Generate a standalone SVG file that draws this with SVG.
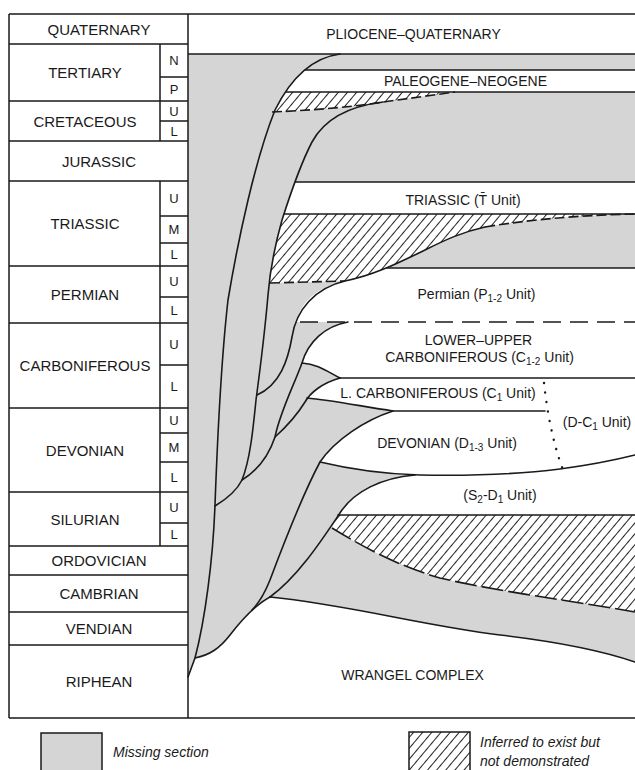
<svg xmlns="http://www.w3.org/2000/svg" width="635" height="770" viewBox="0 0 635 770">
<style>
text{font-family:"Liberation Sans",Arial,Helvetica,sans-serif;fill:#1a1a1a}
.per{font-size:15px;text-anchor:middle}
.sl{font-size:13px;text-anchor:middle}
.unit{font-size:14px;text-anchor:middle}
.leg{font-size:14px;font-style:italic}
.ln{fill:none;stroke:#1a1a1a;stroke-width:1.6;stroke-linecap:round;stroke-linejoin:round}
.tl{fill:none;stroke:#1a1a1a;stroke-width:1.5}
.d1{stroke-dasharray:10 4;stroke-linecap:butt}
.d2{stroke-dasharray:18 9;stroke-linecap:butt}
.d3{stroke-dasharray:22 5;stroke-linecap:butt}
.dot{fill:none;stroke:#1a1a1a;stroke-width:2.4;stroke-linecap:round;stroke-dasharray:0.1 9.5}
.gray{fill:#d5d5d5}
.wh{fill:#ffffff}
.ht{fill:url(#hatch)}
</style>
<defs>
<pattern id="hatch" patternUnits="userSpaceOnUse" width="7" height="7" patternTransform="rotate(40)">
<rect width="7" height="7" fill="#ffffff"/>
<line x1="3.5" y1="-1" x2="3.5" y2="8" stroke="#222" stroke-width="1"/>
</pattern>
<clipPath id="rightA">
<path d="M340,54 C 310,58 290,80 275,110 C 255,160 238,240 228,300 C 220,370 217,450 215,505 C 213,560 205,620 195,658 L188,677 L640,677 L640,54 Z"/>
</clipPath>
<clipPath id="rightB">
<path d="M383,102 C 350,106 325,118 312,142 C 300,165 290,195 282,220 C 275,245 270,270 268,295 C 265,330 260,370 256,400 C 253,430 250,460 242,480 C 236,492 225,500 215,506 L640,506 L640,98 Z"/>
</clipPath>
</defs>

<g id="fills">
<path class="gray" d="M188,54 L635,54 L635,662 C 600,650 560,642 500,635 C 420,625 350,605 270,597 C 255,605 240,622 230,635 C 220,648 210,655 195,658 L188,677 Z"/>
<g clip-path="url(#rightA)">
<rect class="wh" x="188" y="70" width="447" height="22"/>
<path class="ht" d="M188,92 L455,92 C 440,94 420,97 390,101 C 360,106 320,110 272,112 L188,113 Z"/>
</g>
<g clip-path="url(#rightB)">
<rect class="wh" x="188" y="182" width="447" height="32"/>
<path class="ht" d="M188,214 L635,214 C 590,215 540,218 485,227 C 462,232 445,240 425,250 C 400,262 375,275 345,281 L270,283 L188,283 Z"/>
</g>
<path class="wh" d="M296,322 C 302,300 318,287 345,281 C 368,276 380,271 387,268 L635,268 L635,322 Z"/>
<path class="wh" d="M348,322 L635,322 L635,378 L340,378 C 328,372 318,364 302,363 C 308,342 325,326 348,322 Z"/>
<path class="wh" d="M340,378 L635,378 L635,455 C 615,460 590,465 560,469 C 520,474 470,476 420,475 C 380,474 345,468 320,462 C 335,440 365,420 393,411 C 360,406 330,400 307,398 C 310,393 322,383 340,378 Z"/>
<path class="wh" d="M338,515 C 350,495 378,479 415,475 C 470,476 520,474 560,469 C 590,465 615,460 635,455 L635,515 Z"/>
<path class="ht" d="M338,515 L635,515 L635,612 C 580,602 500,592 440,578 C 395,565 360,545 332,528 Z"/>
</g>

<g id="table">
<path class="tl" d="M9,14 L635,14 M9,14 L9,718 M9,718 L635,718 M188,14 L188,718 M188,54 L635,54"/>
<path class="tl" d="M9,44 H188 M9,101 H188 M9,141 H188 M9,181 H188 M9,266 H188 M9,323 H188 M9,408 H188 M9,492 H188 M9,546 H188 M9,575 H188 M9,612 H188 M9,645 H188"/>
<path class="tl" d="M160,44 V141 M160,181 V546 M160,77 H188 M160,121 H188 M160,216 H188 M160,243 H188 M160,297 H188 M160,365 H188 M160,433 H188 M160,462 H188 M160,523 H188"/>
</g>

<g id="periods">
<text class="per" x="99" y="34.5">QUATERNARY</text>
<text class="per" x="85" y="78">TERTIARY</text>
<text class="per" x="85" y="126.5">CRETACEOUS</text>
<text class="per" x="99" y="166.5">JURASSIC</text>
<text class="per" x="85" y="229">TRIASSIC</text>
<text class="per" x="85" y="300">PERMIAN</text>
<text class="per" x="85" y="371">CARBONIFEROUS</text>
<text class="per" x="85" y="455.5">DEVONIAN</text>
<text class="per" x="85" y="524.5">SILURIAN</text>
<text class="per" x="99" y="566">ORDOVICIAN</text>
<text class="per" x="99" y="599">CAMBRIAN</text>
<text class="per" x="99" y="634">VENDIAN</text>
<text class="per" x="99" y="687">RIPHEAN</text>
<text class="sl" x="174" y="65">N</text>
<text class="sl" x="174" y="94">P</text>
<text class="sl" x="174" y="116">U</text>
<text class="sl" x="174" y="136">L</text>
<text class="sl" x="174" y="203">U</text>
<text class="sl" x="174" y="234">M</text>
<text class="sl" x="174" y="259">L</text>
<text class="sl" x="174" y="286">U</text>
<text class="sl" x="174" y="315">L</text>
<text class="sl" x="174" y="349">U</text>
<text class="sl" x="174" y="391">L</text>
<text class="sl" x="174" y="425">U</text>
<text class="sl" x="174" y="452">M</text>
<text class="sl" x="174" y="482">L</text>
<text class="sl" x="174" y="512">U</text>
<text class="sl" x="174" y="539">L</text>
</g>

<g id="connectors">
<path class="ln" d="M340,54 C 310,58 290,80 275,110 C 255,160 238,240 228,300 C 220,370 217,450 215,505 C 213,560 205,620 195,658 L188,677"/>
<path class="ln" d="M383,102 C 350,106 325,118 312,142 C 300,165 290,195 282,220 C 275,245 270,270 268,295 C 265,330 260,370 256,400 C 253,430 250,460 242,480 C 236,492 225,500 215,506"/>
<g clip-path="url(#rightA)">
<path class="ln" d="M188,70 H635 M188,92 H635"/>
</g>
<path class="ln d1" d="M272,112 C 320,110 360,106 390,101 C 420,97 440,94 455,92"/>
<g clip-path="url(#rightB)">
<path class="ln" d="M188,182 H635 M188,214 H635"/>
</g>
<path class="ln" d="M257,395 C 280,385 288,360 292,337 C 296,310 315,288 345,281 C 375,275 400,262 425,250 C 445,240 462,232 485,227"/>
<path class="ln d1" d="M485,227 C 540,218 590,215 635,214"/>
<path class="ln d1" d="M270,283 L345,281"/>
<path class="ln" d="M387,268 L635,268"/>
<path class="ln d2" d="M300,322 L635,322"/>
<path class="ln" d="M348,322 C 325,326 308,342 302,363 C 294,385 280,412 275,437 C 268,458 255,472 242,480"/>
<path class="ln" d="M302,363 C 318,364 328,372 340,378"/>
<path class="ln" d="M340,378 L635,378"/>
<path class="ln" d="M340,378 C 322,383 310,393 305,402 C 297,415 285,428 275,437"/>
<path class="ln" d="M307,398 C 330,400 360,406 393,411 L545,411"/>
<path class="ln" d="M393,411 C 365,420 335,440 320,462 C 305,490 285,540 270,580 C 264,595 258,604 252,610"/>
<path class="ln" d="M320,462 C 345,468 380,474 420,475 C 470,476 520,474 560,469 C 590,465 615,460 635,455"/>
<path class="ln" d="M415,475 C 380,478 355,492 342,510 C 325,535 300,575 270,597"/>
<path class="ln" d="M338,515 L635,515"/>
<path class="ln d3" d="M332,528 C 360,545 395,565 440,578 C 500,592 580,602 635,612"/>
<path class="ln" d="M270,597 C 350,605 420,625 500,635 C 560,642 600,650 635,662"/>
<path class="ln" d="M195,658 C 210,655 220,648 230,635 C 240,622 255,605 270,597"/>
<path class="dot" d="M544,383 C 547,410 552,440 563,470"/>
</g>

<g id="units">
<text class="unit" x="413.5" y="38.5">PLIOCENE–QUATERNARY</text>
<text class="unit" x="465.5" y="86">PALEOGENE–NEOGENE</text>
<text class="unit" x="463" y="204.5">TRIASSIC (T̄ Unit)</text>
<text class="unit" x="476.5" y="299">Permian (P<tspan font-size="10" dy="3">1-2</tspan><tspan dy="-3"> Unit)</tspan></text>
<text class="unit" x="478.5" y="345">LOWER–UPPER</text>
<text class="unit" x="479.5" y="362">CARBONIFEROUS (C<tspan font-size="10" dy="3">1-2</tspan><tspan dy="-3"> Unit)</tspan></text>
<text class="unit" x="438" y="398">L. CARBONIFEROUS (C<tspan font-size="10" dy="3">1</tspan><tspan dy="-3"> Unit)</tspan></text>
<text class="unit" x="597" y="427">(D-C<tspan font-size="10" dy="3">1</tspan><tspan dy="-3"> Unit)</tspan></text>
<text class="unit" x="447" y="448">DEVONIAN (D<tspan font-size="10" dy="3">1-3</tspan><tspan dy="-3"> Unit)</tspan></text>
<text class="unit" x="500" y="500">(S<tspan font-size="10" dy="3">2</tspan><tspan dy="-3">-D</tspan><tspan font-size="10" dy="3">1</tspan><tspan dy="-3"> Unit)</tspan></text>
<text class="unit" x="412.5" y="680">WRANGEL COMPLEX</text>
</g>

<g id="legend">
<rect class="gray" x="41" y="733" width="61" height="45" stroke="#1a1a1a" stroke-width="1.5"/>
<text class="leg" x="113" y="757">Missing section</text>
<rect class="ht" x="409" y="732" width="61" height="45" stroke="#1a1a1a" stroke-width="1.5"/>
<text class="leg" x="480" y="747">Inferred to exist but</text>
<text class="leg" x="480" y="766">not demonstrated</text>
</g>
</svg>
